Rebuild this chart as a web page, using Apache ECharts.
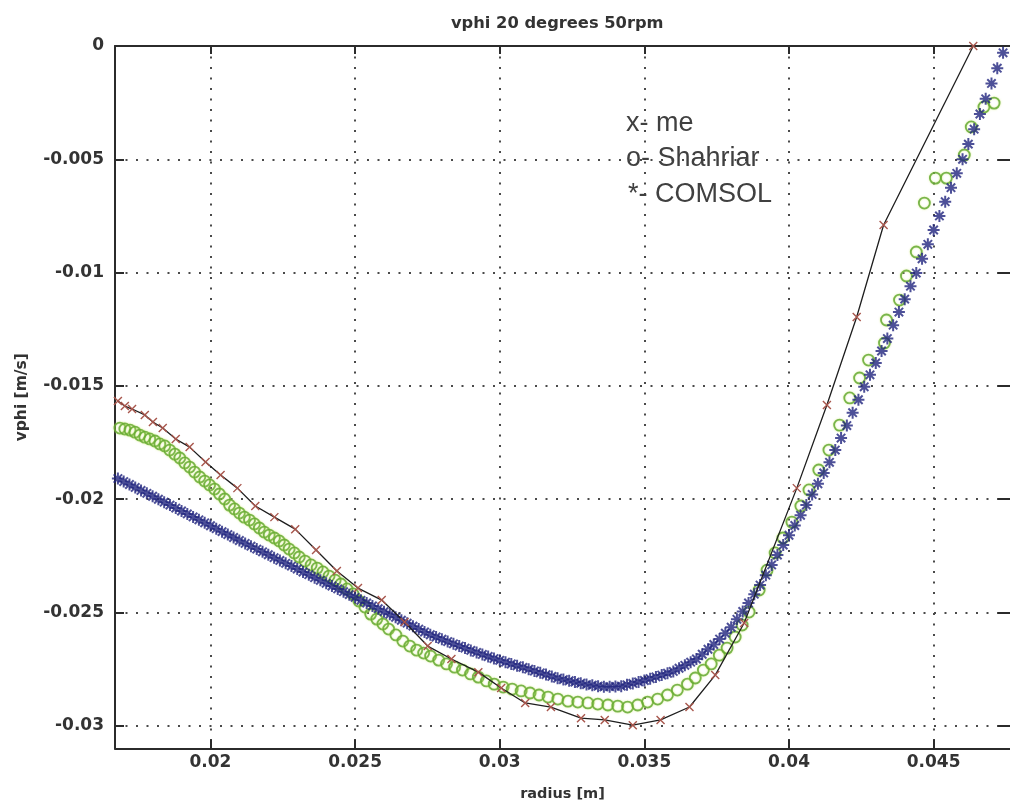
<!DOCTYPE html>
<html><head><meta charset="utf-8">
<script src="https://cdn.jsdelivr.net/npm/echarts@6/dist/echarts.min.js"></script>
<style>html,body{margin:0;padding:0;background:#fff}#c{width:1010px;height:811px}</style>
</head><body><div id="c"></div>
<script>
const titleText = 'vphi 20 degrees 50rpm';
const xName = 'radius [m]';
const yName = 'vphi [m/s]';
const xTicks = [0.02, 0.025, 0.03, 0.035, 0.04, 0.045];
const yTicks = [-0.03, -0.025, -0.02, -0.015, -0.01, -0.005, 0];
const noteLines = ['x- me', 'o- Shahriar', '*- COMSOL'];

// "me": [radius, vphi]
const mePoints = [
[0.01680,-0.01567],[0.01704,-0.01589],[0.01729,-0.01602],[0.01773,-0.01628],[0.01801,-0.01659],
[0.01835,-0.01686],[0.01880,-0.01734],[0.01928,-0.01770],[0.01983,-0.01836],[0.02035,-0.01893],
[0.02093,-0.01951],[0.02155,-0.02030],[0.02221,-0.02079],[0.02293,-0.02132],[0.02365,-0.02224],
[0.02437,-0.02317],[0.02510,-0.02392],[0.02592,-0.02445],[0.02671,-0.02542],[0.02751,-0.02648],
[0.02833,-0.02705],[0.02926,-0.02763],[0.03005,-0.02833],[0.03088,-0.02899],[0.03177,-0.02917],
[0.03281,-0.02966],[0.03363,-0.02974],[0.03460,-0.02997],[0.03556,-0.02974],[0.03656,-0.02917],
[0.03745,-0.02776],[0.03845,-0.02546],[0.04027,-0.01951],[0.04131,-0.01584],[0.04234,-0.01196],
[0.04327,-0.00790],[0.04637,0.0]
];

// "Shahriar": [radius, vphi]
const shahriarPoints = [
[0.01687,-0.01686],[0.01704,-0.01690],[0.01722,-0.01695],[0.01739,-0.01704],[0.01756,-0.01717],
[0.01773,-0.01726],[0.01790,-0.01734],[0.01808,-0.01743],[0.01825,-0.01756],[0.01842,-0.01765],
[0.01859,-0.01783],[0.01877,-0.01801],[0.01894,-0.01818],[0.01911,-0.01840],[0.01928,-0.01858],
[0.01945,-0.01880],[0.01963,-0.01902],[0.01980,-0.01920],[0.01997,-0.01937],[0.02014,-0.01955],
[0.02031,-0.01977],[0.02049,-0.01999],[0.02066,-0.02026],[0.02083,-0.02043],[0.02100,-0.02061],
[0.02117,-0.02079],[0.02135,-0.02092],[0.02152,-0.02109],[0.02169,-0.02127],[0.02186,-0.02145],
[0.02203,-0.02158],[0.02221,-0.02171],[0.02238,-0.02184],[0.02255,-0.02202],[0.02272,-0.02220],
[0.02290,-0.02237],[0.02307,-0.02255],[0.02327,-0.02273],[0.02348,-0.02290],[0.02369,-0.02304],
[0.02389,-0.02321],[0.02410,-0.02339],[0.02431,-0.02357],[0.02451,-0.02374],[0.02472,-0.02396],
[0.02493,-0.02418],[0.02513,-0.02449],[0.02534,-0.02476],[0.02554,-0.02507],[0.02575,-0.02529],
[0.02596,-0.02551],[0.02616,-0.02573],[0.02641,-0.02599],[0.02665,-0.02626],[0.02689,-0.02648],
[0.02713,-0.02666],[0.02737,-0.02679],[0.02761,-0.02692],[0.02789,-0.02710],[0.02816,-0.02727],
[0.02844,-0.02741],[0.02871,-0.02754],[0.02899,-0.02771],[0.02926,-0.02785],[0.02954,-0.02802],
[0.02981,-0.02816],[0.03012,-0.02829],[0.03043,-0.02838],[0.03074,-0.02846],[0.03105,-0.02855],
[0.03136,-0.02864],[0.03167,-0.02873],[0.03201,-0.02882],[0.03236,-0.02891],[0.03270,-0.02895],
[0.03305,-0.02899],[0.03339,-0.02904],[0.03374,-0.02908],[0.03408,-0.02913],[0.03442,-0.02917],
[0.03477,-0.02908],[0.03511,-0.02895],[0.03546,-0.02882],[0.03580,-0.02864],[0.03614,-0.02842],
[0.03649,-0.02816],[0.03676,-0.02789],[0.03704,-0.02754],[0.03731,-0.02727],[0.03759,-0.02688],
[0.03786,-0.02657],[0.03814,-0.02608],[0.03838,-0.02555],[0.03862,-0.02498],[0.03897,-0.02401],
[0.03924,-0.02313],[0.03952,-0.02237],[0.03979,-0.02171],[0.04010,-0.02101],[0.04041,-0.02030],
[0.04069,-0.01959],[0.04103,-0.01871],[0.04138,-0.01783],[0.04175,-0.01673],[0.04210,-0.01553],
[0.04244,-0.01465],[0.04275,-0.01386],[0.04330,-0.01311],[0.04337,-0.01209],[0.04382,-0.01121],
[0.04406,-0.01015],[0.04440,-0.00909],[0.04468,-0.00693],[0.04506,-0.00583],[0.04544,-0.00583],
[0.04606,-0.00481],[0.04630,-0.00357],[0.04674,-0.00269],[0.04709,-0.00252]
];

// "COMSOL": [radius, vphi]
const comsolPoints = [
[0.0168,-0.01909],[0.0170,-0.01922],[0.0172,-0.01935],[0.0174,-0.01948],[0.0176,-0.01961],
[0.0178,-0.01974],[0.0180,-0.01987],[0.0182,-0.02000],[0.0184,-0.02013],[0.0186,-0.02026],
[0.0188,-0.02039],[0.0190,-0.02052],[0.0192,-0.02065],[0.0194,-0.02078],[0.0196,-0.02091],
[0.0198,-0.02104],[0.0200,-0.02117],[0.0202,-0.02130],[0.0204,-0.02143],[0.0206,-0.02156],
[0.0208,-0.02169],[0.0210,-0.02182],[0.0212,-0.02195],[0.0214,-0.02207],[0.0216,-0.02220],
[0.0218,-0.02232],[0.0220,-0.02245],[0.0222,-0.02258],[0.0224,-0.02270],[0.0226,-0.02283],
[0.0228,-0.02295],[0.0230,-0.02308],[0.0232,-0.02321],[0.0234,-0.02333],[0.0236,-0.02346],
[0.0238,-0.02358],[0.0240,-0.02371],[0.0242,-0.02383],[0.0244,-0.02396],[0.0246,-0.02408],
[0.0248,-0.02421],[0.0250,-0.02433],[0.0252,-0.02446],[0.0254,-0.02458],[0.0256,-0.02471],
[0.0258,-0.02483],[0.0260,-0.02496],[0.0262,-0.02508],[0.0264,-0.02521],[0.0266,-0.02534],
[0.0268,-0.02547],[0.0270,-0.02560],[0.0272,-0.02573],[0.0274,-0.02586],[0.0276,-0.02598],
[0.0278,-0.02608],[0.0280,-0.02618],[0.0282,-0.02628],[0.0284,-0.02638],[0.0286,-0.02648],
[0.0288,-0.02657],[0.0290,-0.02667],[0.0292,-0.02676],[0.0294,-0.02685],[0.0296,-0.02694],
[0.0298,-0.02703],[0.0300,-0.02711],[0.0302,-0.02719],[0.0304,-0.02727],[0.0306,-0.02735],
[0.0308,-0.02742],[0.0310,-0.02750],[0.0312,-0.02758],[0.0314,-0.02766],[0.0316,-0.02774],
[0.0318,-0.02782],[0.0320,-0.02790],[0.0322,-0.02796],[0.0324,-0.02801],[0.0326,-0.02807],
[0.0328,-0.02812],[0.0330,-0.02818],[0.0332,-0.02821],[0.0334,-0.02825],[0.0336,-0.02828],
[0.0338,-0.02827],[0.0340,-0.02826],[0.0342,-0.02825],[0.0344,-0.02819],[0.0346,-0.02813],
[0.0348,-0.02806],[0.0350,-0.02800],[0.0352,-0.02792],[0.0354,-0.02784],[0.0356,-0.02776],
[0.0358,-0.02768],[0.0360,-0.02760],[0.0362,-0.02746],[0.0364,-0.02733],[0.0366,-0.02719],
[0.0368,-0.02705],[0.0370,-0.02684],[0.0372,-0.02662],[0.0374,-0.02641],[0.0376,-0.02617],
[0.0378,-0.02591],[0.0380,-0.02565],[0.0382,-0.02530],[0.0384,-0.02495],[0.0386,-0.02458],
[0.0388,-0.02419],[0.0390,-0.02379],[0.0392,-0.02335],[0.0394,-0.02290],[0.0396,-0.02246],
[0.0398,-0.02202],[0.0400,-0.02159],[0.0402,-0.02116],[0.0404,-0.02071],[0.0406,-0.02026],
[0.0408,-0.01979],[0.0410,-0.01932],[0.0412,-0.01884],[0.0414,-0.01837],[0.0416,-0.01783],
[0.0418,-0.01730],[0.0420,-0.01675],[0.0422,-0.01618],[0.0424,-0.01561],[0.0426,-0.01504],
[0.0428,-0.01451],[0.0430,-0.01399],[0.0432,-0.01346],[0.0434,-0.01291],[0.0436,-0.01232],
[0.0438,-0.01174],[0.0440,-0.01117],[0.0442,-0.01060],[0.0444,-0.01002],[0.0446,-0.00939],
[0.0448,-0.00875],[0.0450,-0.00812],[0.0452,-0.00750],[0.0454,-0.00687],[0.0456,-0.00625],
[0.0458,-0.00562],[0.0460,-0.00500],[0.0462,-0.00433],[0.0464,-0.00367],[0.0466,-0.00300],
[0.0468,-0.00233],[0.0470,-0.00165],[0.0472,-0.00098],[0.0474,-0.00030]
];

const axisColor = '#2b2b2b';
const tickFont = {fontFamily: 'DejaVu Sans', fontWeight: 'bold', fontSize: 17, color: '#333'};
const fmt = v => String(+(+v).toFixed(4));
const dotted = {show: true, lineStyle: {color: '#4a4a4a', width: 2, type: [2, 8.5]}};
const X_MIN = 0.0167, X_MAX = 0.04764, Y_MIN = -0.031, Y_MAX = 0;

const chart = echarts.init(document.getElementById('c'), null, {renderer: 'canvas'});
chart.setOption({
  animation: false,
  backgroundColor: '#fff',
  title: {
    text: titleText, left: 446, top: 11,
    textStyle: {fontFamily: 'DejaVu Sans', fontWeight: 'bold', fontSize: 16.3, color: '#333'}
  },
  grid: {left: 115, right: -4, top: 46, bottom: 62.5, containLabel: false},
  xAxis: [
    {
      type: 'value', position: 'bottom', min: X_MIN, max: X_MAX,
      name: xName, nameLocation: 'middle', nameGap: 38,
      nameTextStyle: {fontFamily: 'DejaVu Sans', fontWeight: 'bold', fontSize: 14.5, color: '#333'},
      axisLine: {show: true, onZero: false, lineStyle: {color: axisColor, width: 2}},
      axisTick: {show: true, inside: true, length: 9, customValues: xTicks, lineStyle: {color: axisColor, width: 2}},
      axisLabel: Object.assign({customValues: xTicks, margin: 6, formatter: fmt}, tickFont),
      splitLine: dotted
    },
    {
      type: 'value', position: 'top', min: X_MIN, max: X_MAX,
      axisLine: {show: true, onZero: false, lineStyle: {color: axisColor, width: 2}},
      axisTick: {show: true, inside: true, length: 8, customValues: xTicks, lineStyle: {color: axisColor, width: 2}},
      axisLabel: {show: false},
      splitLine: {show: false}
    }
  ],
  yAxis: [
    {
      type: 'value', position: 'left', min: Y_MIN, max: Y_MAX,
      name: yName, nameLocation: 'middle', nameGap: 85, nameRotate: 90,
      nameTextStyle: {fontFamily: 'DejaVu Sans', fontWeight: 'bold', fontSize: 15.5, color: '#333'},
      axisLine: {show: true, onZero: false, lineStyle: {color: axisColor, width: 2}},
      axisTick: {show: true, inside: true, length: 9, customValues: yTicks, lineStyle: {color: axisColor, width: 2}},
      axisLabel: Object.assign({customValues: yTicks, margin: 11, formatter: fmt}, tickFont),
      splitLine: dotted
    },
    {
      type: 'value', position: 'right', min: Y_MIN, max: Y_MAX,
      axisLine: {show: false, onZero: false},
      axisTick: {show: true, inside: true, length: 12, customValues: yTicks, lineStyle: {color: axisColor, width: 2}},
      axisLabel: {show: false},
      splitLine: {show: false}
    }
  ],
  graphic: noteLines.map((t, i) => ({
    type: 'text',
    left: [626, 626, 628][i],
    top: [110, 145, 181][i],
    z: 5,
    style: {text: t, fontFamily: 'Liberation Sans', fontSize: 27, fill: '#404040'}
  })),
  series: [
    {
      name: 'Shahriar', type: 'scatter', data: shahriarPoints,
      symbol: 'circle', symbolSize: 11,
      itemStyle: {color: 'rgba(0,0,0,0)', borderColor: '#5ca52e', borderWidth: 1.8,
                  shadowBlur: 2, shadowColor: 'rgba(205,232,110,0.9)'},
      z: 2
    },
    {
      name: 'COMSOL', type: 'scatter', data: comsolPoints,
      symbol: 'path://M5,0L5,10M0,5L10,5M1.5,1.5L8.5,8.5M8.5,1.5L1.5,8.5', symbolSize: 12,
      itemStyle: {color: 'rgba(0,0,0,0)', borderColor: '#20247e', borderWidth: 2},
      z: 3
    },
    {
      name: 'me', type: 'line', data: mePoints,
      symbol: 'path://M0,0L10,10M10,0L0,10', symbolSize: 8, showSymbol: true, showAllSymbol: true,
      lineStyle: {color: '#1e1e1e', width: 1.3},
      itemStyle: {color: 'rgba(0,0,0,0)', borderColor: '#a8564c', borderWidth: 1.4},
      z: 4
    }
  ]
});
</script>
</body></html>
